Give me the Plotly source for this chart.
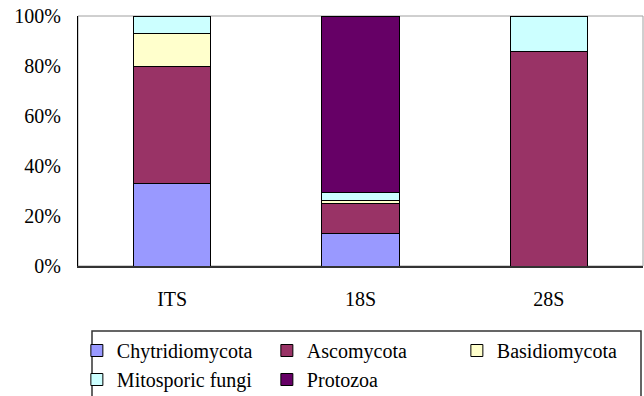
import plotly.graph_objects as go

categories = ["ITS", "18S", "28S"]
series_names = ["Chytridiomycota", "Ascomycota", "Basidiomycota", "Mitosporic fungi", "Protozoa"]
chytridiomycota = [33.2, 13.2, 0]
ascomycota = [46.8, 12.0, 85.7]
basidiomycota = [13.2, 1.0, 0]
mitosporic_fungi = [6.8, 3.3, 14.3]
protozoa = [0, 70.5, 0]
series_values = [chytridiomycota, ascomycota, basidiomycota, mitosporic_fungi, protozoa]
colors = ["#9999FF", "#993366", "#FFFFCC", "#CCFFFF", "#660066"]
y_tick_values = [0, 20, 40, 60, 80, 100]
y_tick_labels = ["0%", "20%", "40%", "60%", "80%", "100%"]

FONT = "Liberation Serif"

fig = go.Figure()
for name, vals, col in zip(series_names, series_values, colors):
    fig.add_trace(go.Bar(
        x=categories, y=vals, name=name,
        marker=dict(color=col, line=dict(color="#000000", width=1)),
        width=0.41,
    ))

fig.update_layout(
    width=644, height=396,
    margin=dict(l=78, r=1, t=16, b=130, autoexpand=False),
    barmode="stack",
    paper_bgcolor="white", plot_bgcolor="white",
    font=dict(family=FONT, size=20, color="#000000"),
    xaxis=dict(
        showline=True, linecolor="#333333", linewidth=2,
        ticks="", ticklabelstandoff=14,
        tickfont=dict(family=FONT, size=20, color="#000000"),
        showgrid=False, zeroline=False,
    ),
    yaxis=dict(
        range=[0, 100], tickvals=y_tick_values, ticktext=y_tick_labels,
        showline=True, linecolor="#000000", linewidth=1,
        ticks="", ticklabelstandoff=12,
        tickfont=dict(family=FONT, size=20, color="#000000"),
        showgrid=False, zeroline=False,
    ),
    legend=dict(
        orientation="h", x=-0.002, xanchor="left", y=-0.26, yanchor="top",
        bgcolor="rgba(0,0,0,0)", borderwidth=0,
        font=dict(family=FONT, size=20, color="#000000"),
        entrywidth=145, traceorder="normal",
    ),
    shapes=[
        dict(type="rect", xref="paper", yref="paper", x0=0, x1=1, y0=0, y1=1,
             line=dict(color="#A0A0A0", width=1), layer="below"),
        dict(type="rect", xref="paper", yref="paper",
             x0=(92 - 78) / 565, x1=(641 - 78) / 565,
             y0=(266 - 331) / 250, y1=(266 - 420) / 250,
             line=dict(color="#333333", width=1.5), layer="below"),
    ],
)

fig.write_html(
    "out.html",
    config={"displayModeBar": False},
    post_script="document.body.style.margin='0';document.body.style.padding='0';document.body.style.overflow='hidden';",
)
